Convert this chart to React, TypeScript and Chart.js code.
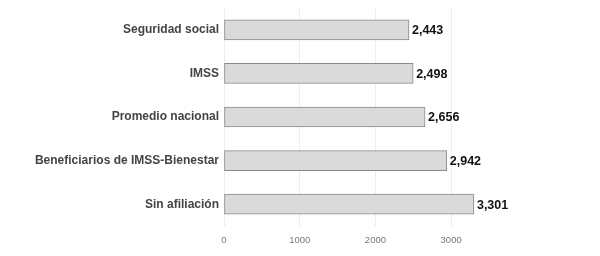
import React, { useEffect, useRef } from "react";
import { Chart, registerables } from "chart.js";

Chart.register(...registerables);

const categories = [
  "Seguridad social",
  "IMSS",
  "Promedio nacional",
  "Beneficiarios de IMSS-Bienestar",
  "Sin afiliación",
];
const values = [2443, 2498, 2656, 2942, 3301];
const xTicks = [0, 1000, 2000, 3000];
const xMax = 3500;

const valueLabels = {
  id: "valueLabels",
  afterDatasetsDraw(chart: any) {
    const { ctx } = chart;
    const meta = chart.getDatasetMeta(0);
    ctx.save();
    ctx.font = "bold 12.5px 'Liberation Sans', Arial, sans-serif";
    ctx.fillStyle = "#111";
    ctx.textAlign = "left";
    ctx.textBaseline = "middle";
    meta.data.forEach((bar: any, i: number) => {
      const v = chart.data.datasets[0].data[i] as number;
      ctx.fillText(v.toLocaleString("en-US"), bar.x + 3, bar.y + 1);
    });
    ctx.restore();
  },
};

export default function App() {
  const ref = useRef<HTMLCanvasElement>(null);
  useEffect(() => {
    if (!ref.current) return;
    const chart = new Chart(ref.current, {
      type: "bar",
      data: {
        labels: categories,
        datasets: [
          {
            data: values,
            backgroundColor: "#dadada",
            borderColor: "#8a8a8a",
            borderWidth: 1,
            borderSkipped: false,
            barThickness: 20,
          },
        ],
      },
      options: {
        indexAxis: "y",
        animation: false,
        responsive: false,
        maintainAspectRatio: false,
        layout: { padding: { top: 8, right: 111, bottom: 0, left: 0 } },
        plugins: { legend: { display: false }, tooltip: { enabled: false } },
        scales: {
          x: {
            min: 0,
            max: xMax,
            afterBuildTicks(scale: any) {
              scale.ticks = xTicks.map((v) => ({ value: v }));
            },
            afterFit(scale: any) {
              scale.height = 30;
              scale.paddingLeft = 0;
              scale.paddingRight = 0;
            },
            grid: { color: "#ececec", drawTicks: false },
            border: { display: false },
            ticks: {
              padding: 9,
              color: "#777",
              font: { family: "'Liberation Sans', Arial, sans-serif", size: 9.5 },
              callback: (v: any) => String(v),
            },
          },
          y: {
            afterFit(scale: any) {
              scale.width = 224;
              scale.paddingTop = 0;
              scale.paddingBottom = 0;
            },
            grid: { display: false, drawTicks: false },
            border: { display: false },
            ticks: {
              padding: 5,
              color: "#444",
              font: { family: "'Liberation Sans', Arial, sans-serif", size: 12, weight: "bold" },
            },
          },
        },
      },
      plugins: [valueLabels],
    });
    return () => chart.destroy();
  }, []);
  return (
    <div style={{ position: "fixed", left: 0, top: 0, width: 600, height: 256, background: "#fff" }}>
      <canvas ref={ref} width={600} height={256} style={{ width: 600, height: 256 }} />
    </div>
  );
}
